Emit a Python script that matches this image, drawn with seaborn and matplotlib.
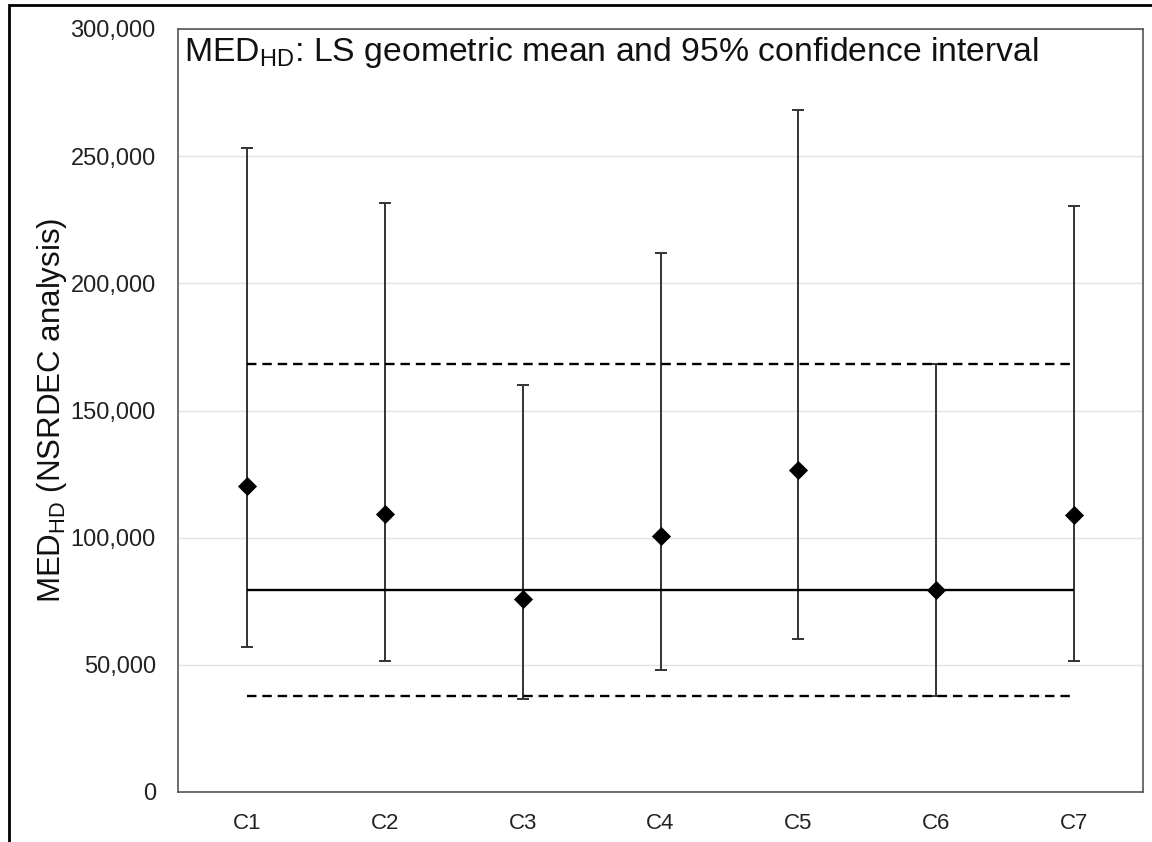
import numpy as np
import pandas as pd
import matplotlib
matplotlib.use('Agg')
import matplotlib.pyplot as plt
import seaborn as sns
from matplotlib.patches import Rectangle
from matplotlib.ticker import FuncFormatter

# LS geometric means and 95% CI per group
groups = ['C1', 'C2', 'C3', 'C4', 'C5', 'C6', 'C7']
ls_mean = [120400, 109300, 76000, 100800, 126800, 79600, 109100]
ci_low = [57000, 51600, 36400, 47800, 60000, 37600, 51600]
ci_high = [253300, 231500, 160100, 212000, 268200, 168400, 230300]

# overall mean and its interval (horizontal reference lines)
overall_mean = 79600
overall_low = 37600
overall_high = 168400

df = pd.DataFrame({'group': groups, 'mean': ls_mean, 'low': ci_low, 'high': ci_high})

sns.set_theme(style='white')
plt.rcParams['font.family'] = ['Liberation Sans', 'DejaVu Sans']
plt.rcParams['mathtext.fontset'] = 'custom'
plt.rcParams['mathtext.rm'] = 'Liberation Sans'
plt.rcParams['mathtext.it'] = 'Liberation Sans:italic'
plt.rcParams['mathtext.bf'] = 'Liberation Sans:bold'
plt.rcParams['mathtext.default'] = 'regular'

fig = plt.figure(figsize=(11.52, 8.42), dpi=100)
ax = fig.add_axes([178 / 1152, 1 - 792 / 842, (1143 - 178) / 1152, (792 - 29) / 842])

# points first so the category axis is set up by seaborn
sns.scatterplot(data=df, x='group', y='mean', marker='D', s=95, color='black',
                edgecolor='black', linewidth=0, zorder=5, ax=ax)

# confidence intervals
yerr = [df['mean'] - df['low'], df['high'] - df['mean']]
ax.errorbar(df['group'], df['mean'], yerr=yerr, fmt='none', ecolor='#333333',
            elinewidth=1.4, capsize=4, capthick=1.4, zorder=3)

# overall mean and interval
ax.hlines(overall_mean, groups[0], groups[-1], color='black', lw=1.7, zorder=4)
ax.hlines([overall_low, overall_high], groups[0], groups[-1], color='black', lw=1.7,
          linestyles=(0, (4, 2.5)), zorder=4)

ax.set_xlim(-0.5, len(groups) - 0.5)
ax.set_ylim(0, 300000)
ax.set_yticks(np.arange(0, 300001, 50000))
ax.yaxis.set_major_formatter(FuncFormatter(lambda v, p: f'{v:,.0f}'))
ax.set_axisbelow(True)
ax.yaxis.grid(True, color='#e3e3e3', lw=1)
ax.xaxis.grid(False)

ax.tick_params(axis='y', length=0, pad=16, labelsize=17, labelcolor='#222222')
ax.tick_params(axis='x', length=0, pad=15, labelsize=16, labelcolor='#222222')
for sp in ax.spines.values():
    sp.set_visible(True)
    sp.set_color('#555555')
    sp.set_linewidth(1.2)

ax.set_xlabel('')
ax.set_ylabel('MED$_{HD}$ (NSRDEC analysis)', fontsize=22.5, color='#111111', labelpad=1)

ax.text(0.006, 0.992, 'MED$_{HD}$: LS geometric mean and 95% confidence interval',
        transform=ax.transAxes, ha='left', va='top', fontsize=24.3, color='#111111')

# outer frame around the picture (right/bottom edges fall outside)
fig.add_artist(Rectangle((9 / 1152, -0.1), 1.2, 1.1 - 5 / 842, transform=fig.transFigure,
                         fill=False, ec='black', lw=2, clip_on=False))

fig.savefig('out.png', dpi=100)
